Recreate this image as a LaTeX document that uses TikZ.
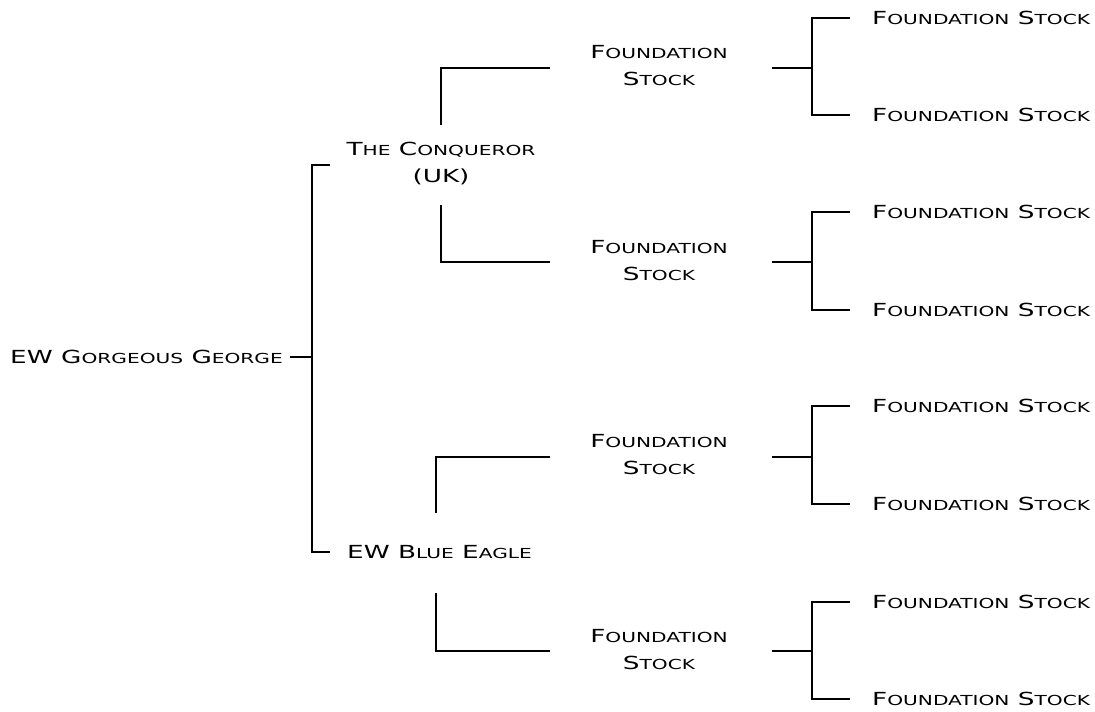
\documentclass[tikz,border=0pt]{standalone}
\usepackage{fontspec}
\setmainfont[FakeStretch=1.46]{DejaVu Sans}
\newcommand\bigc[1]{{\fontsize{18}{20}\selectfont #1}}
\newcommand\smc[1]{{\fontsize{13.8}{20}\selectfont #1}}
\begin{document}
\begin{tikzpicture}[x=1pt,y=-1pt,
  lbl/.style={inner sep=0pt,text=black,align=center,font=\fontsize{18}{27}\selectfont},
  ln/.style={line width=1.2pt,black}]
\useasboundingbox (0,0) rectangle (1095,712);
% root
\node[lbl,anchor=east] (root) at (283,357) {\bigc{EW G}\smc{ORGEOUS} \bigc{G}\smc{EORGE}};
\node[lbl] (conq) at (441,164) {\bigc{T}\smc{HE} \bigc{C}\smc{ONQUEROR}\\\bigc{(UK)}};
\node[lbl,anchor=west] (eagle) at (347,552) {\bigc{EW B}\smc{LUE} \bigc{E}\smc{AGLE}};
% foundation stock (level 2)
\foreach \i/\y in {1/66,2/261,3/455,4/650}{
  \node[lbl] (fs\i) at (659,\y) {\bigc{F}\smc{OUNDATION}\\\bigc{S}\smc{TOCK}};
}
% leaves
\foreach \i/\y in {1/18,2/115,3/212,4/310,5/406,6/504,7/602,8/699}{
  \node[lbl,anchor=west] (leaf\i) at (872,\y) {\bigc{F}\smc{OUNDATION} \bigc{S}\smc{TOCK}};
}
% root connector
\coordinate (r0) at (290,357);
\coordinate (r1) at (312,357);
\coordinate (rt) at (312,165);
\coordinate (rb) at (312,552);
\coordinate (rte) at (330,165);
\coordinate (rbe) at (330,552);
\draw[ln] (r0) -- (r1);
\draw[ln] (rte) -- (rt) -- (rb) -- (rbe);
% conqueror connectors
\coordinate (c1) at (441,125);
\coordinate (c1b) at (441,68);
\coordinate (c1e) at (550,68);
\coordinate (c2) at (441,205);
\coordinate (c2b) at (441,262);
\coordinate (c2e) at (550,262);
\draw[ln] (c1) -- (c1b) -- (c1e);
\draw[ln] (c2) -- (c2b) -- (c2e);
% eagle connectors
\coordinate (e1) at (436,513);
\coordinate (e1b) at (436,457);
\coordinate (e1e) at (550,457);
\coordinate (e2) at (436,593);
\coordinate (e2b) at (436,651);
\coordinate (e2e) at (550,651);
\draw[ln] (e1) -- (e1b) -- (e1e);
\draw[ln] (e2) -- (e2b) -- (e2e);
% level-2 to leaves
\foreach \i/\y/\t/\b in {1/68/18/115,2/262/212/310,3/457/406/504,4/651/602/699}{
  \coordinate (s\i) at (772,\y);
  \coordinate (j\i) at (812,\y);
  \coordinate (jt\i) at (812,\t);
  \coordinate (jb\i) at (812,\b);
  \coordinate (jte\i) at (850,\t);
  \coordinate (jbe\i) at (850,\b);
  \draw[ln] (s\i) -- (j\i);
  \draw[ln] (jte\i) -- (jt\i) -- (jb\i) -- (jbe\i);
}
\end{tikzpicture}
\end{document}
